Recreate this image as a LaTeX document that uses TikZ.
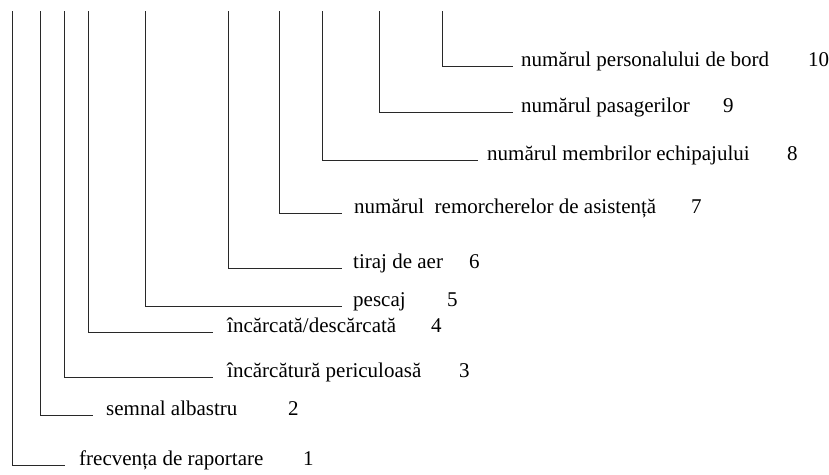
\documentclass[tikz,border=0pt]{standalone}
\usepackage{fontspec}
\setmainfont{Liberation Serif}
\usepackage{xcolor}
\definecolor{ink}{RGB}{40,40,40}

\begin{document}
\begin{tikzpicture}[
  x=1pt,y=-1pt,
  entry/.style={anchor=base west,inner sep=0pt,font=\fontsize{21}{25}\selectfont},
  nr/.style={anchor=base west,inner sep=0pt,font=\fontsize{21}{25}\selectfont},
  wire/.style={draw=ink,line width=0.9pt}
]
\useasboundingbox (0,0) rectangle (829,474);
% tops of the verticals
\coordinate (v1) at (12,11);
\coordinate (v2) at (40,11);
\coordinate (v3) at (64,11);
\coordinate (v4) at (88,11);
\coordinate (v5) at (145,11);
\coordinate (v6) at (228,11);
\coordinate (v7) at (279,11);
\coordinate (v8) at (322,11);
\coordinate (v9) at (379,11);
\coordinate (v10) at (442,11);
% labels
\node[entry] (t1) at (79,465) {frecvența de raportare};
\node[entry] (t2) at (106,415) {semnal albastru};
\node[entry] (t3) at (227,377) {încărcătură periculoasă};
\node[entry] (t4) at (227,332) {încărcată/descărcată};
\node[entry] (t5) at (353,306) {pescaj};
\node[entry] (t6) at (353,268) {tiraj de aer};
\node[entry] (t7) at (354,213) {numărul\hspace{0.5em}remorcherelor de asistență};
\node[entry] (t8) at (487,160) {numărul membrilor echipajului};
\node[entry] (t9) at (521,112) {numărul pasagerilor};
\node[entry] (t10) at (521,66) {numărul personalului de bord};
% numbers
\node[nr] (n1) at (303,465) {1};
\node[nr] (n2) at (288,415) {2};
\node[nr] (n3) at (459,377) {3};
\node[nr] (n4) at (431,332) {4};
\node[nr] (n5) at (447,306) {5};
\node[nr] (n6) at (469,268) {6};
\node[nr] (n7) at (691,213) {7};
\node[nr] (n8) at (787,160) {8};
\node[nr] (n9) at (723,112) {9};
\node[nr] (n10) at (808,66) {10};
% connectors
\draw[wire] (v1) |- ([xshift=-14]t1.base west);
\draw[wire] (v2) |- ([xshift=-13]t2.base west);
\draw[wire] (v3) |- ([xshift=-14]t3.base west);
\draw[wire] (v4) |- ([xshift=-14]t4.base west);
\draw[wire] (v5) |- ([xshift=-11]t5.base west);
\draw[wire] (v6) |- ([xshift=-11]t6.base west);
\draw[wire] (v7) |- ([xshift=-12]t7.base west);
\draw[wire] (v8) |- ([xshift=-9]t8.base west);
\draw[wire] (v9) |- ([xshift=-8]t9.base west);
\draw[wire] (v10) |- ([xshift=-8]t10.base west);
\end{tikzpicture}
\end{document}
